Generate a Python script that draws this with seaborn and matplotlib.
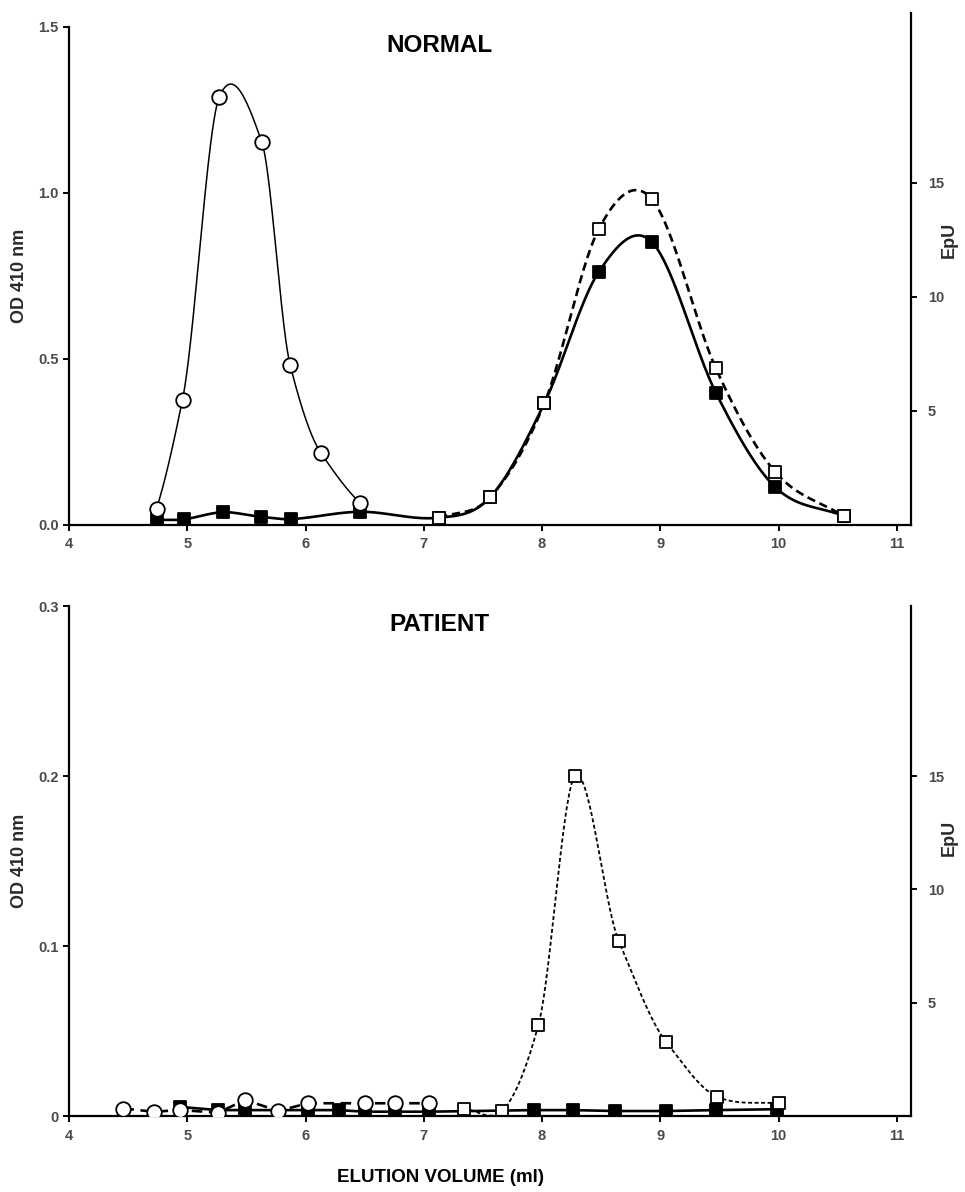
import numpy as np
import matplotlib
matplotlib.use("Agg")
import matplotlib.pyplot as plt
import seaborn as sns

# ---- data ----
# NORMAL panel
n_circ_x = [4.74, 4.96, 5.27, 5.63, 5.87, 6.13, 6.46]
n_circ_od = [0.049, 0.378, 1.288, 1.154, 0.482, 0.217, 0.067]

n_fill_x = [4.74, 4.97, 5.30, 5.62, 5.88, 6.46, 7.13, 7.56, 8.02, 8.48, 8.93, 9.47, 9.97, 10.55]
n_fill_epu = [0.22, 0.25, 0.56, 0.36, 0.26, 0.58, 0.32, 1.21, 5.34, 11.1, 12.4, 5.8, 1.67, 0.39]

n_open_x = [7.13, 7.56, 8.02, 8.48, 8.93, 9.47, 9.97, 10.55]
n_open_epu = [0.32, 1.21, 5.34, 12.98, 14.28, 6.87, 2.34, 0.39]

# PATIENT panel
p_circ_x = [4.46, 4.72, 4.94, 5.26, 5.49, 5.77, 6.02, 6.50, 6.76, 7.04]
p_circ_od = [0.0044, 0.0025, 0.0035, 0.0020, 0.0094, 0.0030, 0.0075, 0.0075, 0.0075, 0.0075]

p_fill_x = [4.94, 5.26, 5.49, 6.02, 6.28, 6.50, 6.76, 7.04, 7.93, 8.26, 8.62, 9.05, 9.47, 9.99]
p_fill_epu = [0.40, 0.26, 0.26, 0.26, 0.26, 0.19, 0.19, 0.19, 0.26, 0.26, 0.22, 0.22, 0.26, 0.30]

p_open_x = [7.34, 7.66, 7.97, 8.28, 8.65, 9.05, 9.48, 10.0]
p_open_epu = [0.32, 0.22, 4.03, 15.0, 7.7, 3.26, 0.85, 0.56]

x_ticks = [4, 5, 6, 7, 8, 9, 10, 11]
epu_ticks = [5, 10, 15]


def smooth(x, y, k=1.0, n=60):
    # cardinal (Catmull-Rom like) curve through the points, only for drawing the line
    x = np.asarray(x, float)
    y = np.asarray(y, float)
    m = np.zeros(len(x))
    m[1:-1] = (y[2:] - y[:-2]) / (x[2:] - x[:-2])
    m[0] = (y[1] - y[0]) / (x[1] - x[0])
    m[-1] = (y[-1] - y[-2]) / (x[-1] - x[-2])
    m *= k
    xs_all, ys_all = [], []
    for i in range(len(x) - 1):
        h = x[i + 1] - x[i]
        t = np.linspace(0, 1, n)
        h00 = 2 * t ** 3 - 3 * t ** 2 + 1
        h10 = t ** 3 - 2 * t ** 2 + t
        h01 = -2 * t ** 3 + 3 * t ** 2
        h11 = t ** 3 - t ** 2
        xs_all.append(x[i] + h * t)
        ys_all.append(h00 * y[i] + h10 * h * m[i] + h01 * y[i + 1] + h11 * h * m[i + 1])
    return np.concatenate(xs_all), np.concatenate(ys_all)


sns.set_style("ticks")
plt.rcParams["font.family"] = ["Liberation Sans", "DejaVu Sans"]
plt.rcParams["font.weight"] = "bold"

TICK_C = "#4a4a4a"
LAB_C = "#2a2a2a"

W, H = 965, 1192
fig = plt.figure(figsize=(W / 100, H / 100), dpi=100)


def frac(left, top, right, bottom):
    return [left / W, 1 - bottom / H, (right - left) / W, (bottom - top) / H]


def style_axes(ax, ax2):
    for s in ["top", "right"]:
        ax.spines[s].set_visible(False)
    for s in ["top", "left", "bottom"]:
        ax2.spines[s].set_visible(False)
    for a in (ax, ax2):
        for s in a.spines.values():
            s.set_linewidth(1.6)
            s.set_color("black")
    ax.tick_params(direction="out", length=4, width=1.4, colors="black",
                   labelcolor=TICK_C, labelsize=10.5)
    ax.tick_params(axis="x", pad=5)
    ax2.tick_params(axis="y", direction="out", length=4, width=1.4, colors="black",
                    labelcolor=TICK_C, labelsize=10.5, left=False, labelleft=False,
                    right=True, labelright=True, pad=8)
    ax2.tick_params(axis="x", bottom=False, labelbottom=False)
    ax.set_xlim(4, 11.12)
    ax.set_xticks(x_ticks)
    ax.set_xticklabels([str(t) for t in x_ticks])
    ax2.set_yticks(epu_ticks)
    ax2.set_yticklabels([str(t) for t in epu_ticks])
    ax.set_zorder(ax2.get_zorder() + 1)
    ax.patch.set_visible(False)
    ax2.patch.set_visible(False)


def markers(ax, x, y, marker, face, size):
    sns.scatterplot(x=x, y=y, ax=ax, marker=marker, s=size, color=face,
                    edgecolor="black", linewidth=1.3, zorder=5, legend=False)


# ================= NORMAL =================
ax = fig.add_axes(frac(69, 27, 911, 525))
ax2 = fig.add_axes(frac(69, 13, 911, 525), sharex=ax)
style_axes(ax, ax2)
ax.set_ylim(0, 1.5)
ax.set_yticks([0, 0.5, 1.0, 1.5])
ax.set_yticklabels(["0.0", "0.5", "1.0", "1.5"])
ax2.set_ylim(0, 22.45)

xs, ys = smooth(n_fill_x, n_fill_epu, k=1.0)
ax2.plot(xs, ys, color="black", lw=1.9, zorder=3)
xs, ys = smooth(n_open_x, n_open_epu, k=1.0)
ax2.plot(xs, ys, color="black", lw=1.9, dashes=(3.2, 1.8), zorder=3)
markers(ax2, n_fill_x, n_fill_epu, "s", "black", 85)
markers(ax2, n_open_x, n_open_epu, "s", "white", 85)

xs, ys = smooth(n_circ_x, n_circ_od, k=0.75)
ax.plot(xs, ys, color="black", lw=1.1, zorder=3)
markers(ax, n_circ_x, n_circ_od, "o", "white", 110)

ax.set_xlabel("")
ax2.set_xlabel("")
ax.set_ylabel("OD 410 nm", fontsize=13, color=LAB_C, fontweight="bold")
ax.yaxis.set_label_coords(-0.049, 0.5)
ax2.set_ylabel("EpU", fontsize=13, color=LAB_C, fontweight="bold")
ax2.yaxis.set_label_coords(1.056, 0.557)
ax.text(0.44, 0.962, "NORMAL", transform=ax.transAxes, ha="center", va="center",
        fontsize=17.5, fontweight="bold", color="black")

# ================= PATIENT =================
bx = fig.add_axes(frac(69, 606, 911, 1116))
bx2 = fig.add_axes(frac(69, 606, 911, 1116), sharex=bx)
style_axes(bx, bx2)
bx.set_ylim(0, 0.3)
bx.set_yticks([0, 0.1, 0.2, 0.3])
bx.set_yticklabels(["0", "0.1", "0.2", "0.3"])
bx2.set_ylim(0, 22.5)

xs, ys = smooth(p_open_x, p_open_epu, k=0.8)
bx2.plot(xs, ys, color="black", lw=1.3, dashes=(2.2, 1.4), zorder=3)
bx2.plot(p_fill_x, p_fill_epu, color="black", lw=1.9, zorder=3)
markers(bx2, p_fill_x, p_fill_epu, "s", "black", 85)
markers(bx2, p_open_x, p_open_epu, "s", "white", 85)

bx.plot(p_circ_x, p_circ_od, color="black", lw=1.9, dashes=(4, 2.5), zorder=3)
markers(bx, p_circ_x, p_circ_od, "o", "white", 110)

bx.set_xlabel("")
bx2.set_xlabel("")
bx.set_ylabel("OD 410 nm", fontsize=13, color=LAB_C, fontweight="bold")
bx.yaxis.set_label_coords(-0.049, 0.5)
bx2.set_ylabel("EpU", fontsize=13, color=LAB_C, fontweight="bold")
bx2.yaxis.set_label_coords(1.056, 0.545)
bx.text(0.44, 0.963, "PATIENT", transform=bx.transAxes, ha="center", va="center",
        fontsize=17.5, fontweight="bold", color="black")

fig.text(0.456, 0.012, "ELUTION VOLUME (ml)", ha="center", va="center",
         fontsize=13.5, fontweight="bold", color="black")

fig.savefig("out.png", dpi=100, facecolor="white")
